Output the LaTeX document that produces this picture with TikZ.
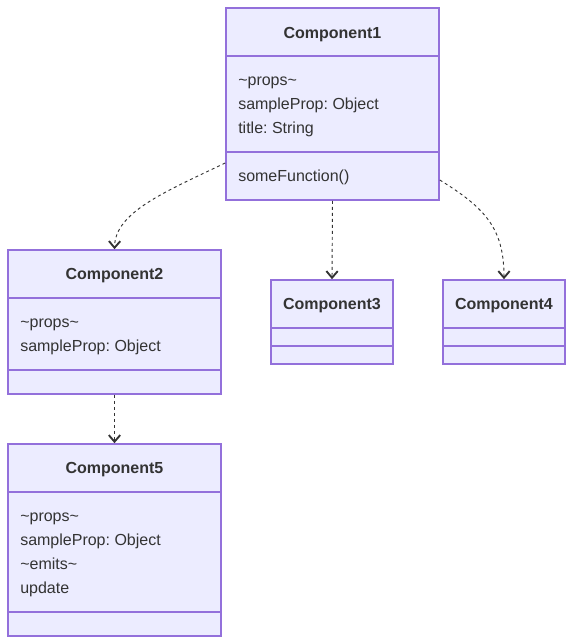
\documentclass[tikz,border=0pt]{standalone}
\usepackage{fontspec}
\setmainfont{Liberation Sans}
\usetikzlibrary{arrows.meta, fit}
\definecolor{boxfill}{HTML}{ECECFF}
\definecolor{boxline}{HTML}{9370DB}
\definecolor{linkgray}{HTML}{333333}
\frenchspacing

\begin{document}
\begin{tikzpicture}[x=0.75pt, y=-0.75pt,
  classbox/.style={draw=boxline, fill=boxfill, line width=1.2pt, inner sep=0pt},
  divider/.style={draw=boxline, line width=1.2pt},
  classname/.style={anchor=base, inner sep=0pt, text=linkgray, font=\fontsize{12}{14}\selectfont\bfseries},
  member/.style={anchor=base west, inner sep=0pt, text=linkgray, font=\fontsize{12}{14}\selectfont},
  dep/.style={draw=linkgray, line width=0.7pt, dash pattern=on 2.25pt off 2.25pt,
    -{Straight Barb[length=5pt, width=8.5pt, line width=1.4pt]}}]
  \useasboundingbox (0,0) rectangle (573,644);

  % Component1
  \node[classbox, fit={(226,8) (439,200)}] (c1) {};
  \draw[divider] (c1.west |- 0,56)  -- (c1.east |- 0,56);
  \draw[divider] (c1.west |- 0,152) -- (c1.east |- 0,152);
  \node[classname] (c1name) at (c1.north |- 0,38) {Component1};
  \node[member] (c1a) at (238, 85)  {\textasciitilde props\textasciitilde};
  \node[member] (c1b) at (238,109)  {sampleProp: Object};
  \node[member] (c1c) at (238,133)  {title: String};
  \node[member] (c1m) at (238,181)  {someFunction()};

  % Component2
  \node[classbox, fit={(8,250) (221,394)}] (c2) {};
  \draw[divider] (c2.west |- 0,298) -- (c2.east |- 0,298);
  \draw[divider] (c2.west |- 0,370) -- (c2.east |- 0,370);
  \node[classname] (c2name) at (c2.north |- 0,279) {Component2};
  \node[member] (c2a) at (20,327) {\textasciitilde props\textasciitilde};
  \node[member] (c2b) at (20,351) {sampleProp: Object};

  % Component3
  \node[classbox, fit={(271,280) (393,364)}] (c3) {};
  \draw[divider] (c3.west |- 0,328) -- (c3.east |- 0,328);
  \draw[divider] (c3.west |- 0,346) -- (c3.east |- 0,346);
  \node[classname] (c3name) at (c3.north |- 0,309) {Component3};

  % Component4
  \node[classbox, fit={(443,280) (565,364)}] (c4) {};
  \draw[divider] (c4.west |- 0,328) -- (c4.east |- 0,328);
  \draw[divider] (c4.west |- 0,346) -- (c4.east |- 0,346);
  \node[classname] (c4name) at (c4.north |- 0,309) {Component4};

  % Component5
  \node[classbox, fit={(8,444) (221,636)}] (c5) {};
  \draw[divider] (c5.west |- 0,492) -- (c5.east |- 0,492);
  \draw[divider] (c5.west |- 0,612) -- (c5.east |- 0,612);
  \node[classname] (c5name) at (c5.north |- 0,473) {Component5};
  \node[member] (c5a) at (20,521) {\textasciitilde props\textasciitilde};
  \node[member] (c5b) at (20,545) {sampleProp: Object};
  \node[member] (c5c) at (20,569) {\textasciitilde emits\textasciitilde};
  \node[member] (c5d) at (20,593) {update};

  % Dependencies
  \draw[dep] (c1.west |- 0,163) .. controls (165,192) and (115,212) .. (c2.north);
  \draw[dep] (c1.south) -- (c3.north);
  \draw[dep] (c1.east |- 0,180) .. controls (485,208) and (504,228) .. (c4.north);
  \draw[dep] (c2.south) -- (c5.north);
\end{tikzpicture}
\end{document}
